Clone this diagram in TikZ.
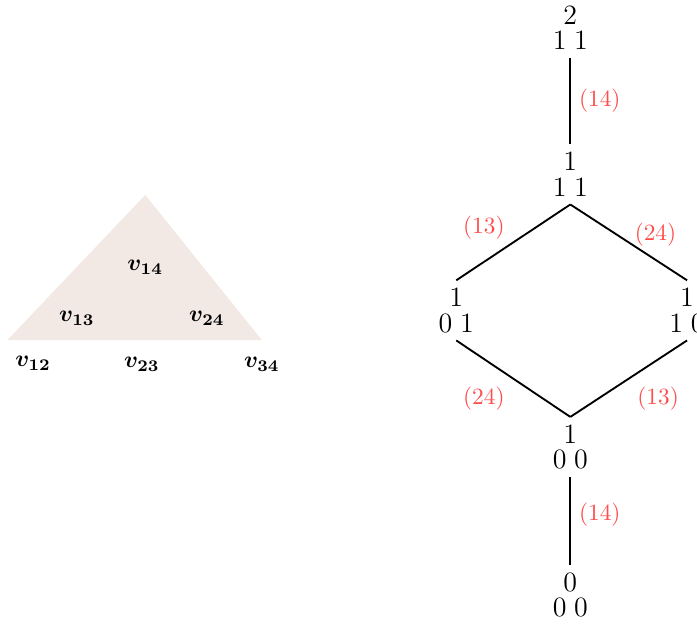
\documentclass[tikz,border=0pt]{standalone}
\usepackage{amsmath}
\usepackage{xcolor}
\usepackage{tikz}
\usetikzlibrary{positioning}
\definecolor{facepink}{RGB}{242,232,228}
\newcommand{\gtrow}[3]{$#1$\\[-3pt]$#2\;#3$}

\begin{document}
\begin{tikzpicture}[vert/.style={font=\boldmath}, gt/.style={align=center, font=\large}, edge/.style={thick}, perm/.style={text=red!70}]
\useasboundingbox (0,0) rectangle (10.51,9.40);
% simplex
\fill[facepink] (0.11,4.27) -- (2.19,6.46) -- (3.95,4.27) -- cycle;
\node[vert] (v14) at (2.19,5.37) {$v_{14}$};
\node[vert] (v13) at (1.16,4.60) {$v_{13}$};
\node[vert] (v24) at (3.12,4.60) {$v_{24}$};
\node[vert] (v12) at (0.50,3.92) {$v_{12}$};
\node[vert] (v23) at (2.14,3.91) {$v_{23}$};
\node[vert] (v34) at (3.95,3.91) {$v_{34}$};
% patterns
\node[gt] (p211) at (8.60,8.98) {\gtrow{2}{1}{1}};
\node[gt] (p111) at (8.60,6.77) {\gtrow{1}{1}{1}};
\node[gt] (p101) at (6.88,4.72) {\gtrow{1}{0}{1}};
\node[gt] (p110) at (10.36,4.72) {\gtrow{1}{1}{0}};
\node[gt] (p100) at (8.60,2.66) {\gtrow{1}{0}{0}};
\node[gt] (p000) at (8.60,0.43) {\gtrow{0}{0}{0}};
\draw[edge] (p211.south) -- node[perm, right] {(14)} (p111.north);
\draw[edge] (p111.south) -- node[perm, above left, yshift=-0.09cm] {(13)} (p101.north);
\draw[edge] (p111.south) -- node[perm, above right, yshift=-0.19cm, xshift=-0.04cm] {(24)} (p110.north);
\draw[edge] (p101.south) -- node[perm, below left] {(24)} (p100.north);
\draw[edge] (p110.south) -- node[perm, below right] {(13)} (p100.north);
\draw[edge] (p100.south) -- node[perm, right, yshift=0.1cm] {(14)} (p000.north);
\end{tikzpicture}
\end{document}
